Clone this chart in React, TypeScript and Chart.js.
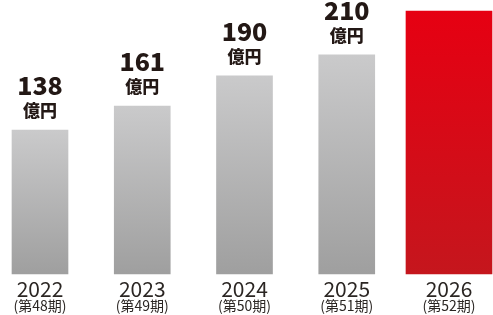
import React, { useEffect, useRef } from "react";
import { Chart, registerables } from "chart.js";

Chart.register(...registerables);

const years = ["2022", "2023", "2024", "2025", "2026"];
const periods = ["(第48期)", "(第49期)", "(第50期)", "(第51期)", "(第52期)"];
const pastValues = [138, 161, 190, 210, null];
const forecastValues = [null, null, null, null, 252];
const valueLabels = ["138", "161", "190", "210", ""];
const unitLabel = "億円";

const TEXT = "#231815";

function barGradient(context: any, top: string, bottom: string, fallback: string) {
  const chart = context.chart;
  const y = chart.scales && chart.scales.y;
  if (!chart.chartArea || !y || context.raw == null) return fallback;
  const yTop = y.getPixelForValue(context.raw);
  const yBot = y.getPixelForValue(0);
  const g = chart.ctx.createLinearGradient(0, yTop, 0, yBot);
  g.addColorStop(0, top);
  g.addColorStop(1, bottom);
  return g;
}

const labelPlugin = {
  id: "labels",
  afterDraw(chart: any) {
    const ctx = chart.ctx;
    const x = chart.scales.x;
    const y = chart.scales.y;
    ctx.save();
    ctx.textAlign = "center";
    ctx.textBaseline = "alphabetic";
    years.forEach((yr, i) => {
      const cx = x.getPixelForValue(i);
      ctx.fillStyle = "#2b2623";
      ctx.font = "400 21px 'Noto Sans CJK JP', 'Noto Sans', sans-serif";
      ctx.fillText(yr, cx, 297);
      ctx.font = "400 14px 'Noto Sans CJK JP', sans-serif";
      ctx.fillText(periods[i], cx, 311);
      const lbl = valueLabels[i];
      const v = pastValues[i];
      if (lbl && v != null) {
        const top = y.getPixelForValue(v);
        ctx.fillStyle = TEXT;
        ctx.font = "900 25px 'Noto Sans CJK JP', 'Noto Sans', sans-serif";
        ctx.fillText(lbl, cx, top - 35);
        ctx.font = "900 17px 'Noto Sans CJK JP', sans-serif";
        ctx.fillText(unitLabel, cx, top - 13);
      }
    });
    ctx.restore();
  },
};

export default function App() {
  const ref = useRef<HTMLCanvasElement>(null);
  useEffect(() => {
    if (!ref.current) return;
    const chart = new Chart(ref.current, {
      type: "bar",
      data: {
        labels: years,
        datasets: [
          {
            data: pastValues as any,
            barThickness: 56,
            backgroundColor: (c: any) => barGradient(c, "#cacacb", "#9f9f9f", "#b4b4b4"),
            borderWidth: 0,
            clip: false as any,
          },
          {
            data: forecastValues as any,
            barThickness: 86,
            backgroundColor: (c: any) => barGradient(c, "#e60012", "#c5161d", "#d70f1c"),
            borderWidth: 0,
            clip: false as any,
          },
        ],
      },
      options: {
        animation: false,
        responsive: false,
        maintainAspectRatio: false,
        layout: { padding: { left: 40, right: 44, top: 11, bottom: 41 } },
        datasets: { bar: { grouped: false } } as any,
        plugins: { legend: { display: false }, tooltip: { enabled: false } },
        scales: {
          x: { display: false, offset: false },
          y: { display: false, min: 0, max: 252 },
        },
      },
      plugins: [labelPlugin],
    });
    return () => chart.destroy();
  }, []);
  return (
    <div style={{ position: "fixed", left: 0, top: 0, width: 493, height: 315, background: "#fff" }}>
      <canvas ref={ref} width={493} height={315} style={{ display: "block" }} />
    </div>
  );
}
